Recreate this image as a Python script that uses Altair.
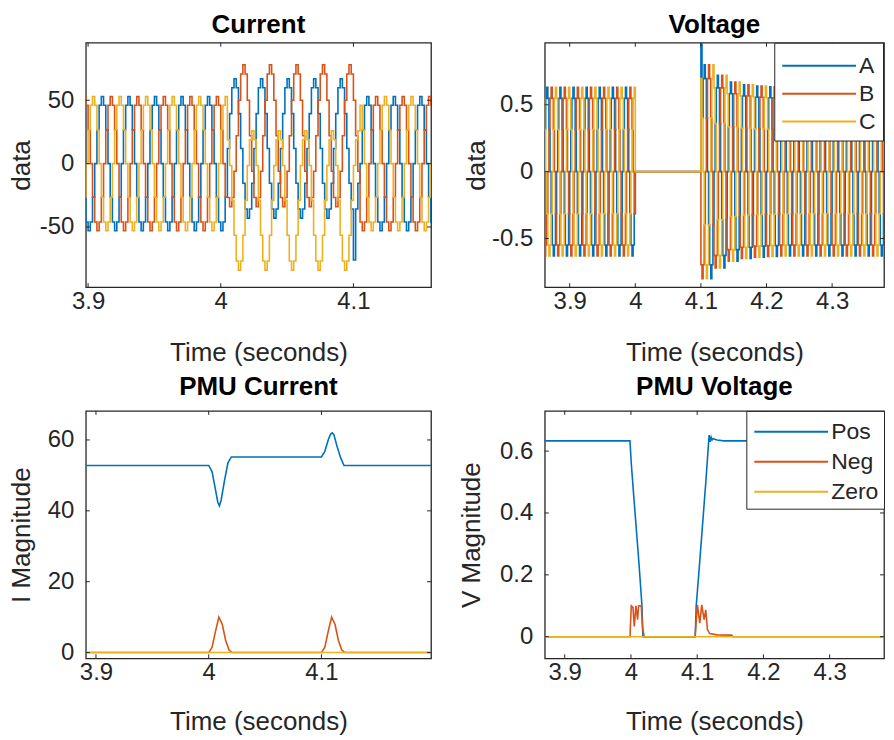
import altair as alt
import pandas as pd

FONT = "Liberation Sans"
TXT = "#262626"
BLUE, ORANGE, YELLOW = "#0072BD", "#D95319", "#EDB120"

# ---------------- waveform building blocks ----------------
PERIOD = 0.02
CYCLE_SHAPE = [0.0, 0.5, 0.87, 1.0, 0.87, 0.5, 0.0, -0.5, -0.87, -1.0, -0.87, -0.5]
PHASE_SHIFT = {"A": 0, "B": 4, "C": -4}  # in samples: B lags A, C leads A

# Current panel: one value per 20 ms cycle, cycles start at CUR_START
CUR_START = 3.885
CUR_AMP = {
    "A": [53, 53, 53, 53, 53, 53, 55, 55, 55, 55, 55, 53, 53, 53, 53, 53, 53],
    "B": [53, 53, 53, 53, 53, 53, 56, 56, 56, 56, 56, 53, 53, 53, 53, 53, 53],
    "C": [53, 53, 53, 53, 53, 53, 55, 55, 55, 55, 55, 53, 53, 53, 53, 53, 53],
}
CUR_OFF = {
    "A": [0, 0, 0, 0, 0, 0, 12, 12, 12, 12, 12, 0, 0, 0, 0, 0, 0],
    "B": [0, 0, 0, 0, 0, 0, 22, 22, 22, 22, 22, 0, 0, 0, 0, 0, 0],
    "C": [0, 0, 0, 0, 0, 0, -29, -29, -29, -29, -29, 0, 0, 0, 0, 0, 0],
}
CUR_SPIKES = [("A", 4.1005, -76)]

# Voltage panel
VOLT_START = 3.84
VOLT_SHIFT_A = 0
VOLT_AMP = {
    "A": [0.63] * 8 + [0] * 5 + [0.80, 0.72, 0.67, 0.65, 0.64, 0.635] + [0.63] * 9,
    "B": [0.63] * 8 + [0] * 5 + [0.80, 0.72, 0.67, 0.65, 0.64, 0.635] + [0.63] * 9,
    "C": [0.63] * 8 + [0] * 5 + [0.80, 0.72, 0.67, 0.65, 0.64, 0.635] + [0.63] * 9,
}
VOLT_SPIKES = [("A", 4.1005, 0.99)]

# PMU current
PMUI_POS_T = [3.88, 4.0, 4.003, 4.006, 4.008, 4.0095, 4.011, 4.014, 4.017, 4.02,
              4.1, 4.103, 4.106, 4.108, 4.1095, 4.111, 4.114, 4.117, 4.12, 4.2]
PMUI_POS_V = [52.8, 52.8, 51, 46, 42.5, 41.4, 43, 48.5, 53.5, 55.2,
              55.2, 56.8, 60, 61.6, 62, 61.5, 58, 55, 52.8, 52.8]
PMUI_NEG_T = [3.88, 4.0, 4.003, 4.006, 4.009, 4.012, 4.015, 4.018, 4.021,
              4.1, 4.103, 4.106, 4.109, 4.112, 4.115, 4.118, 4.121, 4.2]
PMUI_NEG_V = [0, 0, 1.5, 6, 10, 8, 3.5, 0.7, 0,
              0, 1.5, 6, 10, 8, 3.5, 0.7, 0, 0]
PMUI_ZERO_T = [3.88, 4.2]
PMUI_ZERO_V = [0, 0]

# PMU voltage
PMUV_POS_T = [3.85, 3.9985, 4.0005, 4.004, 4.008, 4.012, 4.0166, 4.018,
              4.097, 4.0985, 4.103, 4.108, 4.113, 4.118, 4.1195, 4.121, 4.1225, 4.124, 4.13, 4.14, 4.4]
PMUV_POS_V = [0.633, 0.633, 0.56, 0.46, 0.35, 0.24, 0.1, 0.0,
              0.0, 0.1, 0.22, 0.36, 0.5, 0.652, 0.63, 0.645, 0.636, 0.64, 0.636, 0.633, 0.633]
PMUV_NEG_T = [3.85, 3.9985, 4.0005, 4.003, 4.005, 4.0075, 4.01, 4.0115, 4.0155, 4.0175, 4.02,
              4.0968, 4.1003, 4.1039, 4.1069, 4.1104, 4.1129, 4.1154, 4.119, 4.13, 4.152, 4.154, 4.4]
PMUV_NEG_V = [0, 0, 0.1, 0.095, 0.033, 0.1, 0.055, 0.1, 0.1, 0.03, 0,
              0, 0.103, 0.044, 0.103, 0.055, 0.087, 0.023, 0.01, 0.006, 0.005, 0, 0]
PMUV_ZERO_T = [3.85, 4.4]
PMUV_ZERO_V = [0, 0]

PHASES = ["A", "B", "C"]
SEQS = ["Pos", "Neg", "Zero"]
COLORS = [BLUE, ORANGE, YELLOW]

X_TICKS_LEFT = [3.9, 4.0, 4.1]
X_TICKS_RIGHT = [3.9, 4.0, 4.1, 4.2, 4.3]
Y_TICKS_CUR = [-50, 0, 50]
Y_TICKS_VOLT = [-0.5, 0, 0.5]
Y_TICKS_PMUI = [0, 20, 40, 60]
Y_TICKS_PMUV = [0, 0.2, 0.4, 0.6]

W_LEFT, W_RIGHT = 346, 340
H_TOP, H_BOTTOM = 245, 248
TICK_FS, AXTITLE_FS, TITLE_FS, LEG_FS = 24, 26, 26, 23


def waveform(start, amps, offs, shift, spikes, name):
    n = len(CYCLE_SHAPE)
    dt = PERIOD / n
    rows = []
    for k, (a, o) in enumerate(zip(amps, offs)):
        for j in range(n):
            i = k * n + j
            rows.append([start + i * dt, o + a * CYCLE_SHAPE[(i - shift) % n]])
    for ph, ts, val in spikes:
        if ph == name:
            idx = min(range(len(rows)), key=lambda r: abs(rows[r][0] - ts))
            rows[idx][1] = val
    return pd.DataFrame({"t": [r[0] for r in rows], "v": [r[1] for r in rows], "s": name})


cur_df = pd.concat([waveform(CUR_START, CUR_AMP[p], CUR_OFF[p], PHASE_SHIFT[p], CUR_SPIKES, p)
                    for p in PHASES], ignore_index=True)
volt_df = pd.concat([waveform(VOLT_START, VOLT_AMP[p], [0] * len(VOLT_AMP[p]),
                              PHASE_SHIFT[p] + VOLT_SHIFT_A, VOLT_SPIKES, p)
                     for p in PHASES], ignore_index=True)
pmui_df = pd.concat([
    pd.DataFrame({"t": PMUI_POS_T, "v": PMUI_POS_V, "s": "Pos"}),
    pd.DataFrame({"t": PMUI_NEG_T, "v": PMUI_NEG_V, "s": "Neg"}),
    pd.DataFrame({"t": PMUI_ZERO_T, "v": PMUI_ZERO_V, "s": "Zero"}),
], ignore_index=True)
pmuv_df = pd.concat([
    pd.DataFrame({"t": PMUV_POS_T, "v": PMUV_POS_V, "s": "Pos"}),
    pd.DataFrame({"t": PMUV_NEG_T, "v": PMUV_NEG_V, "s": "Neg"}),
    pd.DataFrame({"t": PMUV_ZERO_T, "v": PMUV_ZERO_V, "s": "Zero"}),
], ignore_index=True)

LABEL_EXPR = "replace(datum.label, '\u2212', '-')"

# legend line sample: custom path 5 units long, so that sqrt(size) stays small
SYM_UNIT = 29.6


def make_legend(x, y, row_pad, pad, sym_off):
    return alt.Legend(orient="none", legendX=x, legendY=y, title=None,
                      symbolType="M-2.5,0H2.5", symbolSize=SYM_UNIT * SYM_UNIT,
                      symbolStrokeWidth=2, symbolOffset=sym_off,
                      labelFont=FONT, labelFontSize=LEG_FS, labelColor=TXT,
                      strokeColor=TXT, fillColor="white", padding=pad,
                      rowPadding=row_pad, labelOffset=24, direction="vertical")


def panel(df, title, ytitle, xdom, ydom, xticks, yticks, names, interp, legend,
          ytx, xty, toff, w, h):
    xs = alt.Scale(domain=xdom, nice=False, zero=False)
    ys = alt.Scale(domain=ydom, nice=False, zero=False)
    lines = alt.Chart(df).mark_line(strokeWidth=1.6, interpolate=interp, clip=True).encode(
        x=alt.X("t:Q", scale=xs,
                axis=alt.Axis(values=xticks, format=".2~f", title="Time (seconds)",
                              labelPadding=2, labelExpr=LABEL_EXPR,
                              titleBaseline="alphabetic", titleY=xty)),
        y=alt.Y("v:Q", scale=ys,
                axis=alt.Axis(values=yticks, format=".2~f", title=ytitle,
                              labelPadding=12, labelExpr=LABEL_EXPR,
                              titleBaseline="alphabetic", titleX=ytx, titleY=h / 2)),
        color=alt.Color("s:N", scale=alt.Scale(domain=names, range=COLORS),
                        legend=legend, sort=names),
    )
    xt = alt.Chart(pd.DataFrame({"t": xticks}))
    yt = alt.Chart(pd.DataFrame({"v": yticks}))
    tk = dict(color=TXT, strokeWidth=1)
    layers = [
        lines,
        xt.mark_rule(**tk).encode(x="t:Q", y=alt.value(h), y2=alt.value(h - 4)),
        xt.mark_rule(**tk).encode(x="t:Q", y=alt.value(0), y2=alt.value(4)),
        yt.mark_rule(**tk).encode(y="v:Q", x=alt.value(0), x2=alt.value(4)),
        yt.mark_rule(**tk).encode(y="v:Q", x=alt.value(w), x2=alt.value(w - 4)),
    ]
    return alt.layer(*layers).properties(
        width=w, height=h,
        title=alt.TitleParams(title, font=FONT, fontSize=TITLE_FS, fontWeight="bold",
                              color="black", offset=toff),
    )


tl = panel(cur_df, "Current", "data", [3.8983, 4.1585], [-97.5, 95.4],
           X_TICKS_LEFT, Y_TICKS_CUR, PHASES, "step-after", None,
           -56, 73, 4, W_LEFT, H_TOP)
tr = panel(volt_df, "Voltage", "data", [3.862, 4.3791], [-0.864, 0.964],
           X_TICKS_RIGHT, Y_TICKS_VOLT, PHASES, "step-after",
           make_legend(230, 0, 0, 7, 22), -60, 73, 4, W_RIGHT, H_TOP)
bl = panel(pmui_df, "PMU Current", "I Magnitude", [3.891, 4.1972], [-1.63, 68.2],
           X_TICKS_LEFT, Y_TICKS_PMUI, SEQS, "linear", None,
           -56, 71, 10, W_LEFT, H_BOTTOM)
br = panel(pmuv_df, "PMU Voltage", "V Magnitude", [3.8699, 4.382], [-0.07, 0.73],
           X_TICKS_RIGHT, Y_TICKS_PMUV, SEQS, "linear",
           make_legend(202, 0, 2, 5, 24), -65, 71, 10, W_RIGHT, H_BOTTOM)

chart = alt.concat(tl, tr, bl, br, columns=2, spacing={"row": 124, "column": 114},
                   bounds="flush").resolve_scale(color="independent").properties(
    padding={"left": 0, "top": 2, "right": 0, "bottom": 0}, background="white")

chart = chart.configure_view(stroke=TXT, strokeWidth=1.3).configure_axis(
    domain=False, ticks=False, grid=False,
    labelFont=FONT, labelFontSize=TICK_FS, labelColor=TXT,
    titleFont=FONT, titleFontSize=AXTITLE_FS, titleFontWeight="normal", titleColor=TXT,
)

chart.save("out.html", embed_options={"renderer": "svg", "actions": False})
